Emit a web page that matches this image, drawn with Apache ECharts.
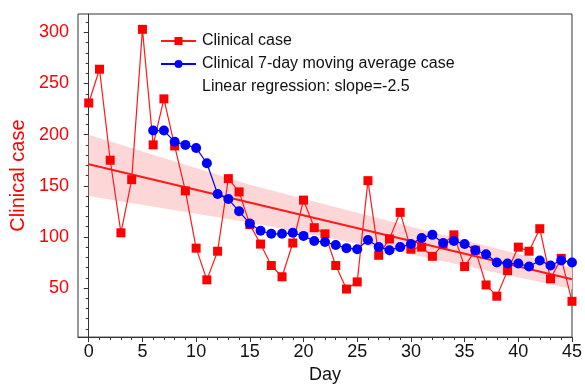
<!DOCTYPE html>
<html><head><meta charset="utf-8">
<script src="https://cdn.jsdelivr.net/npm/echarts@6/dist/echarts.min.js"></script>
<style>html,body{margin:0;padding:0;background:#fff}#c{width:585px;height:389px}</style>
</head><body><div id="c"></div>
<script>
const clinicalDays = [0,1,2,3,4,5,6,7,8,9,10,11,12,13,14,15,16,17,18,19,20,21,22,23,24,25,26,27,28,29,30,31,32,33,34,35,36,37,38,39,40,41,42,43,44,45];
const clinicalCases = [231,264,175,104,156,303,190,235,189,145,89,58,86,157,144,112,93,72,61,94,136,109,103,72,49,56,155,82,98,124,88,90,81,93,102,71,87,53,42,67,90,86,108,59,79,37];
const maDays = [6,7,8,9,10,11,12,13,14,15,16,17,18,19,20,21,22,23,24,25,26,27,28,29,30,31,32,33,34,35,36,37,38,39,40,41,42,43,44,45];
const maCases = [204,204,193,190,187,172,142,137,125,113,106,103,103,104,101,96,95,92,89,88,97,90,87,90,93,99,102,94,96,93,87,83,75,74,74,71,77,72,77,75];
const regDays = [0,45];
const regValues = [171,58.5];
const bandDays = [0,15,30,45];
const bandUpper = [200,151,110,70];
const bandLower = [140,114,83,49];
const xTickLabels = [0,5,10,15,20,25,30,35,40,45];
const yTickLabels = [50,100,150,200,250,300];
const seriesNames = ['Clinical case','Clinical 7-day moving average case','Linear regression: slope=-2.5'];

const xMinor = [];
for (let d = 0; d <= 45; d++) if (d % 5 !== 0) xMinor.push(d);
const yMinor = [];
for (let v = 10; v <= 310; v += 10) if (v % 50 !== 0) yMinor.push(v);

const font = 'Liberation Sans, Arial, sans-serif';
const axisColor = '#333';
const pair = (xs, ys) => xs.map((x, i) => [x, ys[i]]);

const chart = echarts.init(document.getElementById('c'), null, {renderer: 'canvas'});
chart.setOption({
  animation: false,
  backgroundColor: '#fff',
  textStyle: {fontFamily: font},
  grid: {left: 78, right: 11, top: 14, bottom: 47, show: true, borderColor: axisColor, borderWidth: 1, backgroundColor: 'transparent'},
  legend: {
    left: 155, top: 28, orient: 'vertical',
    itemWidth: 35, itemHeight: 10, itemGap: 7,
    textStyle: {fontSize: 16, color: '#111', fontFamily: font, padding: [0,0,0,1]},
    data: [
      {name: seriesNames[0]},
      {name: seriesNames[1]},
      {name: seriesNames[2], icon: 'none'}
    ]
  },
  xAxis: [
    {type: 'value', min: -1, max: 45, position: 'bottom',
     axisLine: {show: true, lineStyle: {color: axisColor, width: 1}},
     axisTick: {show: true, customValues: xTickLabels, length: 5, lineStyle: {color: axisColor}},
     axisLabel: {customValues: xTickLabels, fontSize: 18, color: '#111', margin: 6, fontFamily: font},
     splitLine: {show: false},
     name: 'Day', nameLocation: 'middle', nameGap: 27,
     nameTextStyle: {fontSize: 18, color: '#111', fontFamily: font}},
    {type: 'value', min: -1, max: 45, position: 'bottom', offset: 0,
     axisLine: {show: false},
     axisTick: {show: true, customValues: xMinor, length: 3, lineStyle: {color: axisColor}},
     axisLabel: {show: false}, splitLine: {show: false}}
  ],
  yAxis: [
    {type: 'value', min: 2, max: 318, position: 'left',
     axisLine: {show: true, lineStyle: {color: axisColor, width: 1}},
     axisTick: {show: true, customValues: yTickLabels, length: 5, lineStyle: {color: axisColor}},
     axisLabel: {customValues: yTickLabels, fontSize: 18, color: '#ff0000', margin: 9, fontFamily: font},
     splitLine: {show: false},
     name: 'Clinical case', nameLocation: 'middle', nameGap: 41, nameRotate: 90,
     nameTextStyle: {fontSize: 20, color: '#ff0000', fontFamily: font}},
    {type: 'value', min: 2, max: 318, position: 'left', offset: 0,
     axisLine: {show: false},
     axisTick: {show: true, customValues: yMinor, length: 3, lineStyle: {color: axisColor}},
     axisLabel: {show: false}, splitLine: {show: false}}
  ],
  series: [
    {name: 'band', type: 'custom', silent: true, z: 1,
     data: bandDays.map((d, i) => [d, bandLower[i], bandUpper[i]]),
     renderItem: function (params, api) {
       if (params.dataIndex !== 0) return null;
       const top = bandDays.map((d, i) => api.coord([d, bandUpper[i]]));
       const bot = bandDays.map((d, i) => api.coord([d, bandLower[i]])).reverse();
       return {type: 'polygon', shape: {points: top.concat(bot)}, style: {fill: '#fdd6d8', stroke: null}};
     }},
    {name: seriesNames[2], type: 'line', data: pair(regDays, regValues), showSymbol: false, symbol: 'none',
     lineStyle: {color: '#ff1a1a', width: 2}, itemStyle: {color: '#ff1a1a'}, z: 2},
    {name: seriesNames[0], type: 'line', data: pair(clinicalDays, clinicalCases),
     symbol: 'rect', symbolSize: 9, showAllSymbol: true,
     lineStyle: {color: '#ff1a1a', width: 1.2}, itemStyle: {color: '#ff0000'}, z: 3},
    {name: seriesNames[1], type: 'line', data: pair(maDays, maCases),
     symbol: 'circle', symbolSize: 10, showAllSymbol: true,
     lineStyle: {color: '#0000ff', width: 1.2}, itemStyle: {color: '#0000ff'}, z: 4}
  ]
});
</script></body></html>
